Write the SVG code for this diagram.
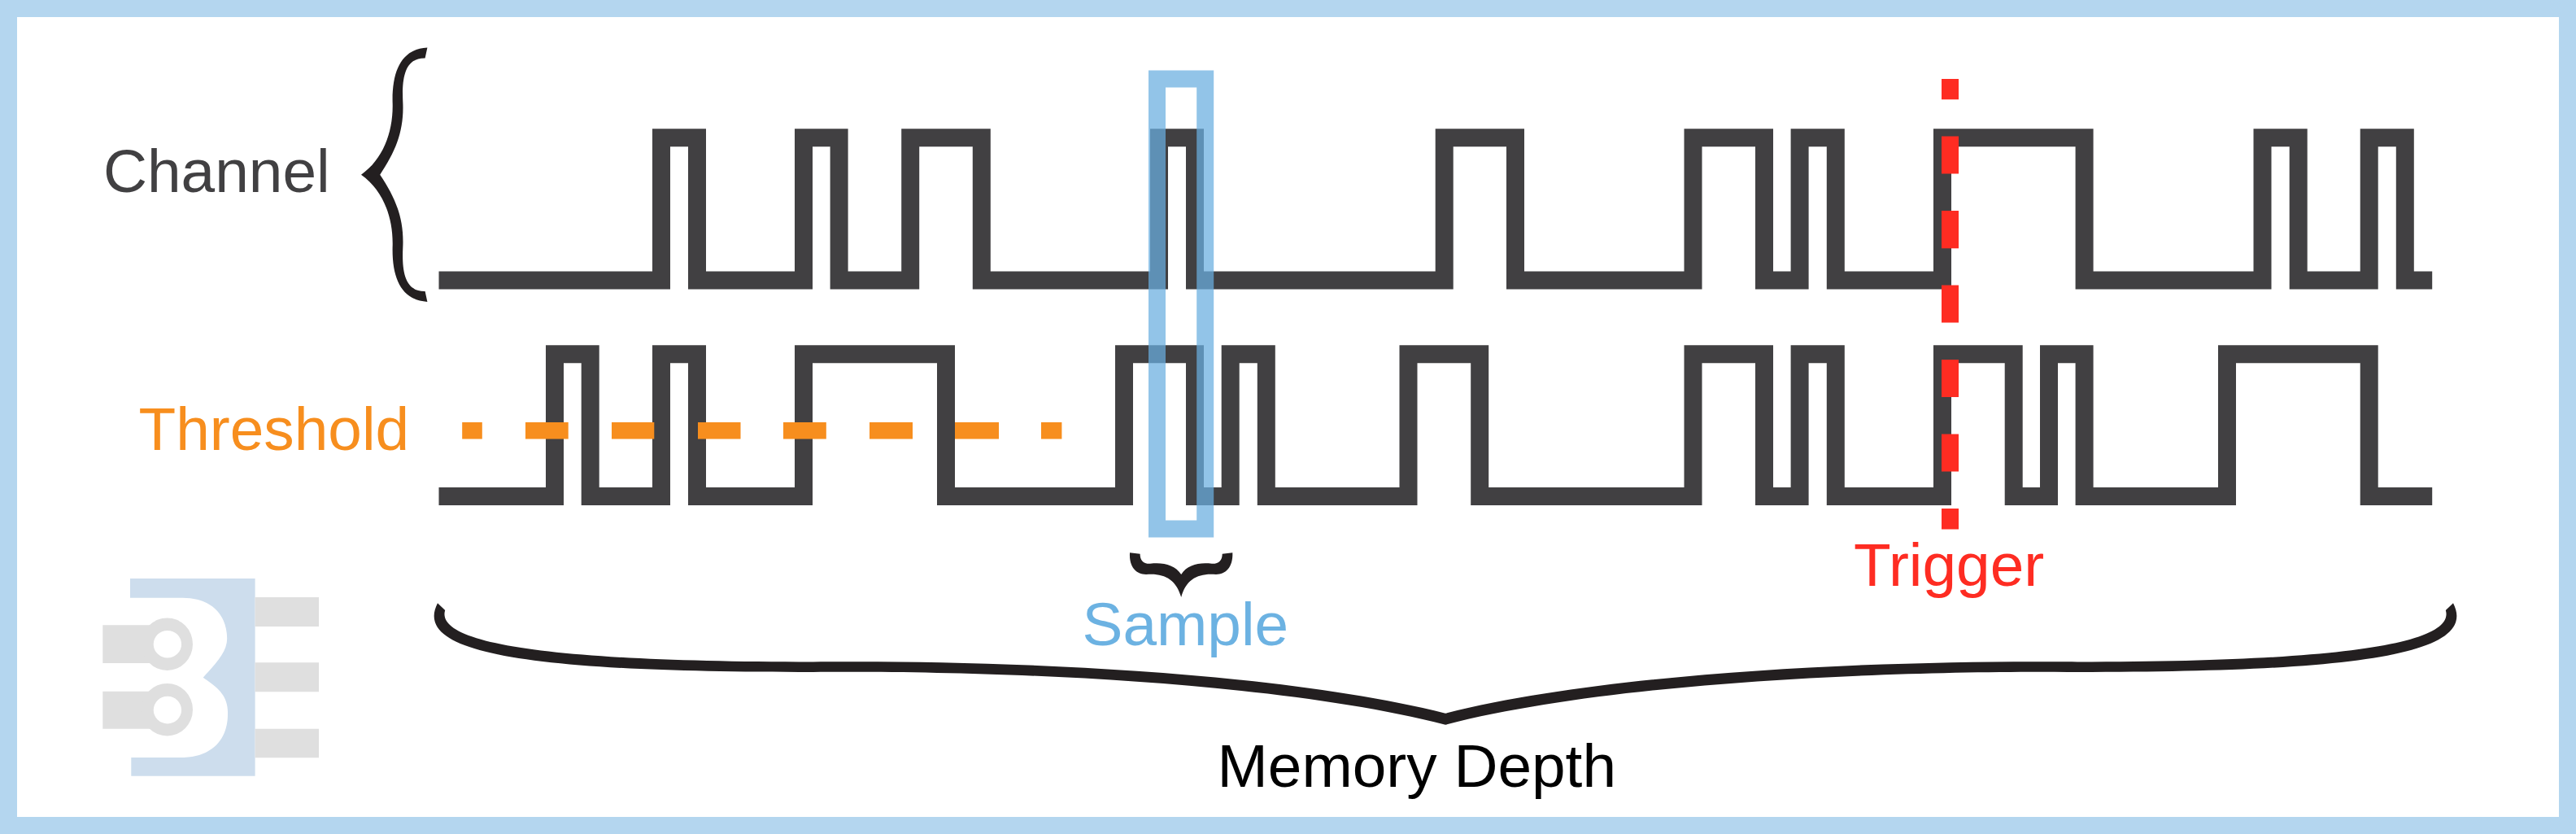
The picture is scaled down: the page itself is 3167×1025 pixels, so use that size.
<svg xmlns="http://www.w3.org/2000/svg" width="3167" height="1025" viewBox="0 0 3167 1025">
<style>
text{font-family:"Liberation Sans",Arial,sans-serif;font-size:74.8px}
.wave{fill:none;stroke:#414042;stroke-width:22;stroke-linejoin:miter}
.brace{fill:#231F20}
.grey{fill:#DFDFDF}
</style>
<rect width="3167" height="1025" fill="#fff"/>
<rect id="frame" x="10.5" y="10.5" width="3146" height="1004" fill="none" stroke="#B4D6EF" stroke-width="21"/>
<g id="logo">
<path fill="#CDDDED" d="M160 711H313.6V953.7H161.3V931H221C265 931 280 905 280 878C281 855 268 845 249.7 832.7C268 813 279 800 279.2 785C279 760 265 735 224.5 734.7H160Z"/>
<path class="grey" d="M313.6 734H392V770H313.6ZM313.6 814.3H392V850.3H313.6ZM313.6 895.7H392V931.3H313.6Z"/>
<path class="grey" d="M126.3 768.3H186V815H126.3ZM126.3 849.7H186V895.7H126.3Z"/>
<path class="grey" fill-rule="evenodd" d="M174 791.7a31.5 32.3 0 1 0 63 0a31.5 32.3 0 1 0 -63 0ZM188.7 791.7a17.2 16.8 0 1 1 34.4 0a17.2 16.8 0 1 1 -34.4 0Z"/>
<path class="grey" fill-rule="evenodd" d="M174 872.2a31.5 32.3 0 1 0 63 0a31.5 32.3 0 1 0 -63 0ZM188.7 872.6a17.2 16.8 0 1 1 34.4 0a17.2 16.8 0 1 1 -34.4 0Z"/>
</g>
<g id="channel-label"><text x="127" y="235.5" fill="#414042">Channel</text></g>
<g id="threshold-label"><text x="170.5" y="553" fill="#F78E1E">Threshold</text></g>
<g id="channel-brace"><path class="brace" d="M525.4 58.5C495 60 482 85 482.6 125C484 160 472 195 444 214.7C472 234.4 484 269.4 482.6 304.4C482 344.4 495 369 525.4 370.9L522.6 358C498 358.4 494 334.4 495.3 304.4C497 269.4 487 244.4 467.2 214.7C487 185 497 160 495.3 125C494 95 498 71 522.6 71.5Z"/></g>
<g id="connectors">
<path id="channel-wave" class="wave" d="M539.5 344.5H813V169.3H857V344.5H988V169.3H1031.6V344.5H1119.2V169.3H1206.8V344.5H1425V169.3H1469V344.5H1775.7V169.3H1863V344.5H2081.5V169.3H2169V344.5H2212.6V169.3H2256.8V344.5H2388V169.3H2562.6V344.5H2781.5V169.3H2825.7V344.5H2912.7V169.3H2956.8V344.5H2990.2"/>
<path id="sampled-wave" class="wave" d="M539.5 610.1H682V435.2H725.7V610.1H813V435.2H857V610.1H988V435.2H1163V610.1H1382V435.2H1469V610.1H1512.7V435.2H1556.8V610.1H1731.5V435.2H1819.2V610.1H2081.5V435.2H2169V610.1H2212.6V435.2H2256.8V610.1H2388V435.2H2475.7V610.1H2519V435.2H2562.6V610.1H2738V435.2H2912.7V610.1H2990.2"/>
<path id="threshold-line" fill="none" stroke="#F78E1E" stroke-width="20.5" d="M568.2 529.3H592.8M646 529.3H698.7M752 529.3H804.3M858 529.3H910.5M963 529.3H1015.8M1069 529.3H1122M1174 529.3H1228M1280 529.3H1305.4"/>
<path id="trigger-line" fill="none" stroke="#FE2C22" stroke-width="21" d="M2397.5 97.1V122.3M2397.5 167.4V213.4M2397.5 258.9V305.3M2397.5 350.4V396.4M2397.5 441.9V487.9M2397.5 533.4V579.4M2397.5 624.9V650.5"/>
</g>
<g id="sample-window"><rect x="1422.5" y="97" width="59.2" height="553" fill="none" stroke="#69AEDF" stroke-opacity=".73" stroke-width="21"/></g>
<g id="sample-brace"><path class="brace" d="M1389 679.3L1401.6 680.7C1401.6 688 1405 693 1414 692.8C1430 691 1444 694 1452.2 706C1460 694 1474 691 1490 692.8C1499 693 1502.7 688 1502.7 680.7L1515.3 679.3C1516 697 1507 706 1495 706C1473 704 1458 712 1452.2 734C1446 712 1431 704 1409 706C1397 706 1388 697 1389 679.3Z"/></g>
<g id="sample-label"><text x="1330.5" y="792.7" fill="#6CB2E2">Sample</text></g>
<g id="trigger-label"><text x="2279" y="720.3" fill="#FE2C22">Trigger</text></g>
<g id="memory-brace"><path class="brace" d="M538 741.3L547.2 750C535 790 670 813.5 1000 813.5C1200 811 1560 822 1777 876.7C1994 822 2354 811 2554 813.5C2884 813.5 3019 790 3006.8 750L3016 741.3C3049 805 2894 826 2554 826C2354 824 1994 835 1777 890.7C1560 835 1200 824 1000 826C660 826 505 805 538 741.3Z"/></g>
<g id="memory-label"><text x="1496.5" y="967.3" fill="#000">Memory Depth</text></g>
</svg>
